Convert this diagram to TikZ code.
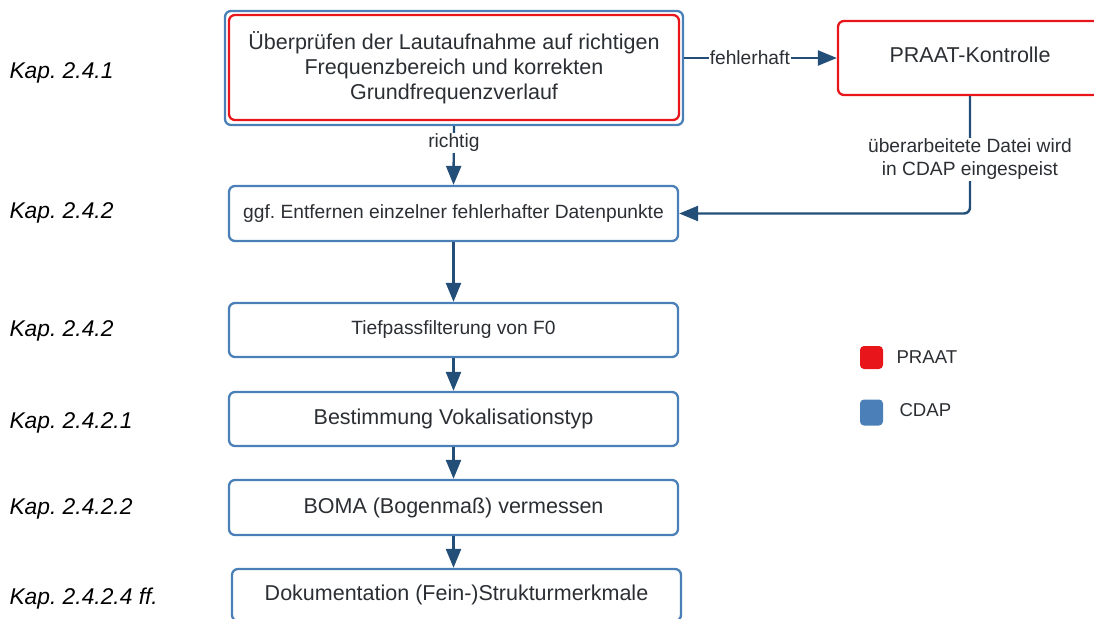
\documentclass[tikz,border=0pt]{standalone}
\usepackage{fontspec}
\setmainfont{Liberation Sans}
\usetikzlibrary{arrows.meta}
\frenchspacing
\definecolor{boxblue}{HTML}{4A80B7}
\definecolor{boxred}{HTML}{E8161B}
\definecolor{arrowblue}{HTML}{234E77}
\definecolor{txt}{HTML}{2B2F33}
\tikzset{
  every node/.style={text=txt},
  stepbox/.style={draw=boxblue, line width=2.3pt, rounded corners=6pt, fill=white, minimum width=449pt, inner sep=0pt, align=center},
  bigtext/.style={font=\fontsize{21.5}{25}\selectfont},
  smalltext/.style={font=\fontsize{19.2}{23}\selectfont},
  kaplabel/.style={anchor=west, text=black, font=\fontsize{22.8}{26}\selectfont\itshape},
  conn/.style={draw=arrowblue, line width=2.4pt, -{Triangle[length=19pt, width=15pt]}},
  lbl/.style={fill=white, inner sep=1pt, font=\fontsize{19.2}{23}\selectfont, align=center},
}
\begin{document}
\begin{tikzpicture}[x=1pt, y=-1pt]
\useasboundingbox (0,0) rectangle (1094,618);
\clip (0,0) rectangle (1094,618);
% top box with double frame
\node[draw=boxblue, line width=2.3pt, rounded corners=6pt, minimum width=458pt, minimum height=114pt, inner sep=0pt] (outer) at (454,68) {};
\node[draw=boxred, line width=2.3pt, rounded corners=6pt, minimum width=450pt, minimum height=105pt, inner sep=0pt, align=center, bigtext] (top) at (454,67.5) {Überprüfen der Lautaufnahme auf richtigen\\Frequenzbereich und korrekten\\Grundfrequenzverlauf};
% PRAAT-Kontrolle
\node[draw=boxred, line width=2.3pt, rounded corners=6pt, minimum width=264pt, minimum height=74pt, inner sep=0pt, bigtext] (praat) at (970,58) {\raisebox{6pt}{PRAAT-Kontrolle}};
% main steps
\node[stepbox, minimum height=55pt, smalltext] (b2) at (453.5,213.5) {ggf. Entfernen einzelner fehlerhafter Datenpunkte};
\node[stepbox, minimum height=54pt, smalltext] (b3) at (453.5,330) {Tiefpassfilterung von F0};
\node[stepbox, minimum height=54pt, bigtext] (b4) at (453.5,419) {\raisebox{3pt}{Bestimmung Vokalisationstyp}};
\node[stepbox, minimum height=55pt, bigtext] (b5) at (453.5,507.5) {\raisebox{2pt}{BOMA (Bogenmaß) vermessen}};
\node[stepbox, minimum height=52pt, bigtext] (b6) at (456.5,595) {Dokumentation (Fein-)Strukturmerkmale};
% connectors
\draw[conn] (outer.south) -- node[lbl, pos=0.28] {richtig} (b2.north);
\draw[conn] (outer.east |- praat.west) -- node[lbl, pos=0.43] {fehlerhaft} (praat.west);
\coordinate (corner) at (praat.south |- b2.east);
\draw[conn, rounded corners=6pt] (praat.south) -- node[lbl, pos=0.54] {überarbeitete Datei wird\\in CDAP eingespeist} (corner) -- (b2.east);
\draw[conn] (b2.south) -- (b3.north);
\draw[conn] (b3.south) -- (b4.north);
\draw[conn] (b4.south) -- (b5.north);
\draw[conn] (b5.south) -- (b5.south |- b6.north);
% chapter labels
\node[kaplabel] (k1) at (6,73) {Kap. 2.4.1};
\node[kaplabel] (k2) at (6,213) {Kap. 2.4.2};
\node[kaplabel] (k3) at (6,331) {Kap. 2.4.2};
\node[kaplabel] (k4) at (6,423) {Kap. 2.4.2.1};
\node[kaplabel] (k5) at (6,509) {Kap. 2.4.2.2};
\node[kaplabel] (k6) at (6,599) {Kap. 2.4.2.4 ff.};
% legend
\node[fill=boxred, rounded corners=4pt, minimum size=23pt, inner sep=0pt] (lr) at (871.5,357.5) {};
\node[anchor=west, font=\fontsize{18.6}{22}\selectfont] (lrt) at (893,357) {PRAAT};
\node[fill=boxblue, rounded corners=4pt, minimum width=23pt, minimum height=26pt, inner sep=0pt] (lb) at (871.5,412.5) {};
\node[anchor=west, font=\fontsize{18.6}{22}\selectfont] (lbt) at (896,410) {CDAP};
\end{tikzpicture}
\end{document}
